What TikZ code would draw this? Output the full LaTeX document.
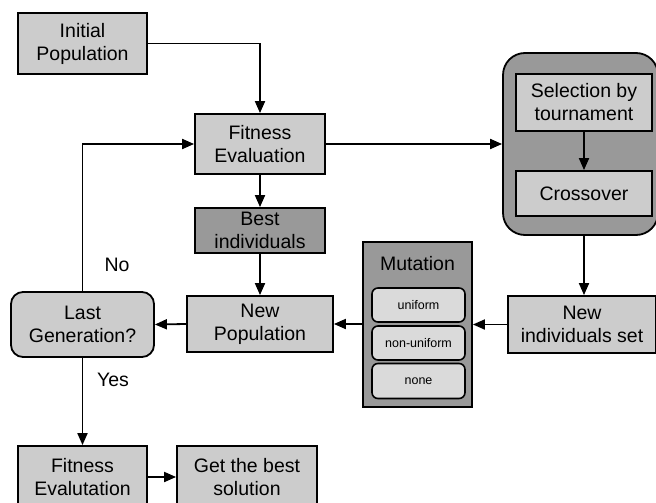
\documentclass[tikz,border=0pt]{standalone}
\usepackage{fontspec}
\setmainfont{Liberation Sans}
\usetikzlibrary{arrows.meta}
\definecolor{boxlight}{HTML}{CCCCCC}
\definecolor{boxdark}{HTML}{999999}
\definecolor{optfill}{HTML}{DADADA}
\begin{document}
\begin{tikzpicture}[x=1pt,y=-1pt,
  every node/.style={font=\fontsize{19.5}{23}\selectfont, align=center, inner sep=0pt},
  stepbox/.style={draw=black, line width=1.8pt, fill=boxlight, minimum width=130pt, minimum height=60pt},
  darkbox/.style={stepbox, fill=boxdark},
  groupbox/.style={draw=black, line width=1.8pt, fill=boxdark, rounded corners=22pt},
  optbox/.style={draw=black, line width=1.6pt, fill=optfill, rounded corners=6pt,
    minimum width=93pt, minimum height=34pt, font=\fontsize{12.5}{15}\selectfont},
  flow/.style={draw=black, line width=1.8pt, -{Triangle[length=12pt,width=10pt]}},
  lbl/.style={font=\fontsize{19.5}{23}\selectfont}
]
\useasboundingbox (0,0) rectangle (656,503);
\clip (0,0) rectangle (656,503);

% main column
\node[stepbox, minimum width=129pt, minimum height=61pt] (init) at (82.5,43.5) {Initial\\Population};
\node[stepbox] (fit) at (260,144) {Fitness\\Evaluation};
\node[darkbox, minimum height=45pt] (best) at (260,230.5) {Best\\individuals};
\node[stepbox, minimum width=146pt, minimum height=56pt] (newpop) at (260,324) {New\\Population};
\node[stepbox, rounded corners=12pt, minimum width=143pt, minimum height=65pt] (last) at (82.5,324.5) {Last\\Generation?};

% genetic operators group
\node[groupbox, minimum width=155pt, minimum height=182pt] (group) at (580.5,144) {};
\node[stepbox, minimum width=136pt, minimum height=57pt] (sel) at (584,102.5) {Selection by\\tournament};
\node[stepbox, minimum width=136pt, minimum height=45pt] (cross) at (584,193.5) {Crossover};
\node[stepbox, minimum width=148pt, minimum height=57pt] (newind) at (582,324.5) {New\\individuals set};

% mutation variants
\node[draw=black, line width=1.8pt, fill=boxdark, minimum width=109pt, minimum height=165pt] (mut) at (417.5,324.5) {};
\node (muttitle) at (417.5,264) {Mutation};
\node[optbox] (uni) at (418.5,305) {uniform};
\node[optbox] (nonuni) at (418.5,343) {non-uniform};
\node[optbox, minimum height=35pt] (none) at (418.5,381) {none};

% final stage
\node[stepbox, minimum width=129pt, minimum height=62pt] (fit2) at (82.5,477) {Fitness\\Evalutation};
\node[stepbox, minimum width=140pt, minimum height=62pt] (sol) at (247,477) {Get the best\\solution};

% connectors
\draw[flow] (init.east) -| (fit.north);
\draw[flow] (fit.east) -- (group.west |- fit.east);
\draw[flow] (fit) -- (best);
\draw[flow] (best) -- (newpop);
\draw[flow] (sel) -- (cross);
\draw[flow] (cross.south |- group.south) -- (cross.south |- newind.north);
\draw[flow] (newind.west) -- (mut.east |- newind.west);
\draw[flow] (mut.west |- newpop.east) -- (newpop.east);
\draw[flow] (newpop.west) -- (last.east);
\draw[flow] (last.north) |- (fit.west);
\draw[flow] (last.south) -- (fit2.north);
\draw[flow] (fit2.east) -- (sol.west);

% branch labels
\node[lbl] (no) at (117,265) {No};
\node[lbl] (yes) at (113,380) {Yes};
\end{tikzpicture}
\end{document}
